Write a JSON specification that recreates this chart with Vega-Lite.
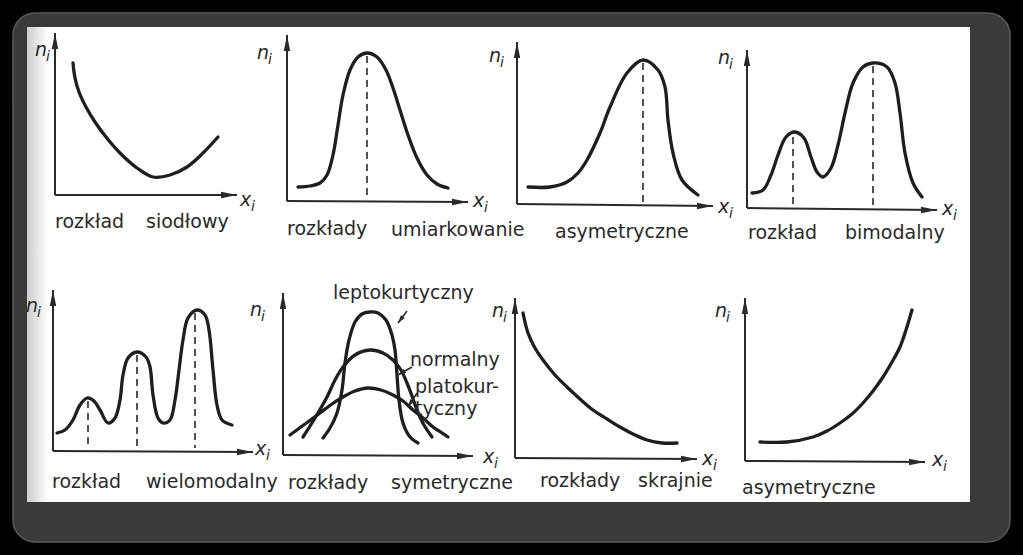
{
  "$schema": "https://vega.github.io/schema/vega-lite/v6.json",
  "width": 1023,
  "height": 555,
  "autosize": {"type": "fit", "contains": "padding"},
  "padding": 0,
  "background": "#000000",
  "config": {"view": {"stroke": null}, "font": "DejaVu Sans"},
  "datasets": {
    "frame": [{"x": 13, "x2": 1010, "y": 13, "y2": 542}],
    "paper": [{"x": 27, "x2": 970, "y": 27, "y2": 502}],
    "shade": [{"x": 27, "x2": 48, "y": 27, "y2": 502}],
    "curves": [
      {"c": "c1", "x": 73, "y": 63}, {"c": "c1", "x": 75, "y": 78}, {"c": "c1", "x": 79, "y": 92}, {"c": "c1", "x": 86, "y": 107}, {"c": "c1", "x": 95, "y": 122}, {"c": "c1", "x": 106, "y": 137}, {"c": "c1", "x": 120, "y": 153}, {"c": "c1", "x": 137, "y": 168}, {"c": "c1", "x": 153, "y": 177}, {"c": "c1", "x": 170, "y": 175}, {"c": "c1", "x": 187, "y": 167}, {"c": "c1", "x": 203, "y": 153}, {"c": "c1", "x": 218, "y": 137},
      {"c": "c2", "x": 298, "y": 187}, {"c": "c2", "x": 310, "y": 186}, {"c": "c2", "x": 320, "y": 183}, {"c": "c2", "x": 327, "y": 175}, {"c": "c2", "x": 333, "y": 155}, {"c": "c2", "x": 338, "y": 125}, {"c": "c2", "x": 343, "y": 95}, {"c": "c2", "x": 350, "y": 70}, {"c": "c2", "x": 358, "y": 57}, {"c": "c2", "x": 367, "y": 53}, {"c": "c2", "x": 377, "y": 57}, {"c": "c2", "x": 386, "y": 70}, {"c": "c2", "x": 393, "y": 88}, {"c": "c2", "x": 400, "y": 110}, {"c": "c2", "x": 408, "y": 135}, {"c": "c2", "x": 417, "y": 158}, {"c": "c2", "x": 427, "y": 175}, {"c": "c2", "x": 437, "y": 184}, {"c": "c2", "x": 448, "y": 188},
      {"c": "c3", "x": 528, "y": 187}, {"c": "c3", "x": 550, "y": 187}, {"c": "c3", "x": 567, "y": 182}, {"c": "c3", "x": 578, "y": 173}, {"c": "c3", "x": 587, "y": 160}, {"c": "c3", "x": 600, "y": 133}, {"c": "c3", "x": 610, "y": 107}, {"c": "c3", "x": 627, "y": 73}, {"c": "c3", "x": 643, "y": 60}, {"c": "c3", "x": 658, "y": 70}, {"c": "c3", "x": 665, "y": 87}, {"c": "c3", "x": 668, "y": 120}, {"c": "c3", "x": 673, "y": 153}, {"c": "c3", "x": 682, "y": 180}, {"c": "c3", "x": 698, "y": 195},
      {"c": "c4", "x": 752, "y": 193}, {"c": "c4", "x": 763, "y": 190}, {"c": "c4", "x": 771, "y": 175}, {"c": "c4", "x": 778, "y": 155}, {"c": "c4", "x": 786, "y": 137}, {"c": "c4", "x": 795, "y": 132}, {"c": "c4", "x": 804, "y": 138}, {"c": "c4", "x": 811, "y": 157}, {"c": "c4", "x": 817, "y": 172}, {"c": "c4", "x": 823, "y": 177}, {"c": "c4", "x": 831, "y": 168}, {"c": "c4", "x": 838, "y": 145}, {"c": "c4", "x": 845, "y": 113}, {"c": "c4", "x": 853, "y": 83}, {"c": "c4", "x": 863, "y": 67}, {"c": "c4", "x": 873, "y": 63}, {"c": "c4", "x": 887, "y": 67}, {"c": "c4", "x": 895, "y": 83}, {"c": "c4", "x": 900, "y": 113}, {"c": "c4", "x": 905, "y": 153}, {"c": "c4", "x": 913, "y": 183}, {"c": "c4", "x": 922, "y": 197},
      {"c": "c5", "x": 57, "y": 433}, {"c": "c5", "x": 65, "y": 430}, {"c": "c5", "x": 73, "y": 420}, {"c": "c5", "x": 80, "y": 405}, {"c": "c5", "x": 87, "y": 398}, {"c": "c5", "x": 94, "y": 401}, {"c": "c5", "x": 100, "y": 410}, {"c": "c5", "x": 108, "y": 423}, {"c": "c5", "x": 115, "y": 418}, {"c": "c5", "x": 120, "y": 400}, {"c": "c5", "x": 123, "y": 375}, {"c": "c5", "x": 128, "y": 358}, {"c": "c5", "x": 137, "y": 352}, {"c": "c5", "x": 146, "y": 357}, {"c": "c5", "x": 150, "y": 367}, {"c": "c5", "x": 153, "y": 395}, {"c": "c5", "x": 158, "y": 418}, {"c": "c5", "x": 163, "y": 423}, {"c": "c5", "x": 170, "y": 420}, {"c": "c5", "x": 175, "y": 400}, {"c": "c5", "x": 179, "y": 370}, {"c": "c5", "x": 183, "y": 340}, {"c": "c5", "x": 188, "y": 318}, {"c": "c5", "x": 197, "y": 310}, {"c": "c5", "x": 205, "y": 315}, {"c": "c5", "x": 209, "y": 330}, {"c": "c5", "x": 213, "y": 370}, {"c": "c5", "x": 217, "y": 405}, {"c": "c5", "x": 222, "y": 420}, {"c": "c5", "x": 232, "y": 425},
      {"c": "c6a", "x": 323, "y": 438}, {"c": "c6a", "x": 330, "y": 428}, {"c": "c6a", "x": 337, "y": 413}, {"c": "c6a", "x": 342, "y": 390}, {"c": "c6a", "x": 345, "y": 363}, {"c": "c6a", "x": 349, "y": 340}, {"c": "c6a", "x": 355, "y": 322}, {"c": "c6a", "x": 362, "y": 314}, {"c": "c6a", "x": 370, "y": 312}, {"c": "c6a", "x": 378, "y": 313}, {"c": "c6a", "x": 386, "y": 320}, {"c": "c6a", "x": 392, "y": 335}, {"c": "c6a", "x": 395, "y": 350}, {"c": "c6a", "x": 397, "y": 375}, {"c": "c6a", "x": 399, "y": 400}, {"c": "c6a", "x": 403, "y": 423}, {"c": "c6a", "x": 410, "y": 437}, {"c": "c6a", "x": 418, "y": 443},
      {"c": "c6b", "x": 303, "y": 437}, {"c": "c6b", "x": 315, "y": 418}, {"c": "c6b", "x": 327, "y": 397}, {"c": "c6b", "x": 335, "y": 380}, {"c": "c6b", "x": 343, "y": 367}, {"c": "c6b", "x": 355, "y": 355}, {"c": "c6b", "x": 370, "y": 350}, {"c": "c6b", "x": 383, "y": 353}, {"c": "c6b", "x": 393, "y": 360}, {"c": "c6b", "x": 401, "y": 370}, {"c": "c6b", "x": 407, "y": 383}, {"c": "c6b", "x": 412, "y": 396}, {"c": "c6b", "x": 417, "y": 410}, {"c": "c6b", "x": 424, "y": 425}, {"c": "c6b", "x": 432, "y": 437},
      {"c": "c6c", "x": 290, "y": 435}, {"c": "c6c", "x": 305, "y": 424}, {"c": "c6c", "x": 320, "y": 413}, {"c": "c6c", "x": 332, "y": 404}, {"c": "c6c", "x": 343, "y": 397}, {"c": "c6c", "x": 355, "y": 391}, {"c": "c6c", "x": 368, "y": 388}, {"c": "c6c", "x": 381, "y": 390}, {"c": "c6c", "x": 393, "y": 395}, {"c": "c6c", "x": 403, "y": 401}, {"c": "c6c", "x": 413, "y": 410}, {"c": "c6c", "x": 423, "y": 418}, {"c": "c6c", "x": 433, "y": 427}, {"c": "c6c", "x": 442, "y": 433}, {"c": "c6c", "x": 448, "y": 437},
      {"c": "c7", "x": 523, "y": 313}, {"c": "c7", "x": 528, "y": 333}, {"c": "c7", "x": 535, "y": 348}, {"c": "c7", "x": 543, "y": 360}, {"c": "c7", "x": 555, "y": 375}, {"c": "c7", "x": 567, "y": 387}, {"c": "c7", "x": 580, "y": 399}, {"c": "c7", "x": 593, "y": 410}, {"c": "c7", "x": 607, "y": 419}, {"c": "c7", "x": 620, "y": 427}, {"c": "c7", "x": 633, "y": 434}, {"c": "c7", "x": 647, "y": 440}, {"c": "c7", "x": 662, "y": 443}, {"c": "c7", "x": 677, "y": 443},
      {"c": "c8", "x": 760, "y": 442}, {"c": "c8", "x": 787, "y": 442}, {"c": "c8", "x": 813, "y": 437}, {"c": "c8", "x": 827, "y": 431}, {"c": "c8", "x": 840, "y": 423}, {"c": "c8", "x": 852, "y": 414}, {"c": "c8", "x": 863, "y": 403}, {"c": "c8", "x": 873, "y": 391}, {"c": "c8", "x": 883, "y": 377}, {"c": "c8", "x": 892, "y": 362}, {"c": "c8", "x": 900, "y": 347}, {"c": "c8", "x": 906, "y": 330}, {"c": "c8", "x": 912, "y": 310}
    ],
    "axes": [
      {"x": 55, "y": 33, "x2": 55, "y2": 195}, {"x": 55, "y": 195, "x2": 237, "y2": 195},
      {"x": 287, "y": 35, "x2": 287, "y2": 201}, {"x": 287, "y": 201, "x2": 468, "y2": 202},
      {"x": 517, "y": 42, "x2": 517, "y2": 204}, {"x": 517, "y": 204, "x2": 713, "y2": 206},
      {"x": 747, "y": 50, "x2": 747, "y2": 208}, {"x": 747, "y": 208, "x2": 937, "y2": 210},
      {"x": 53, "y": 290, "x2": 53, "y2": 451}, {"x": 53, "y": 451, "x2": 253, "y2": 452},
      {"x": 283, "y": 293, "x2": 283, "y2": 455}, {"x": 283, "y": 455, "x2": 473, "y2": 456},
      {"x": 515, "y": 298, "x2": 515, "y2": 458}, {"x": 515, "y": 458, "x2": 697, "y2": 459},
      {"x": 745, "y": 298, "x2": 745, "y2": 461}, {"x": 745, "y": 461, "x2": 925, "y2": 462}
    ],
    "heads": [
      {"x": 55, "y": 33, "angle": 0}, {"x": 237, "y": 195, "angle": 90},
      {"x": 287, "y": 35, "angle": 0}, {"x": 468, "y": 202, "angle": 90},
      {"x": 517, "y": 42, "angle": 0}, {"x": 713, "y": 206, "angle": 90},
      {"x": 747, "y": 50, "angle": 0}, {"x": 937, "y": 210, "angle": 90},
      {"x": 53, "y": 290, "angle": 0}, {"x": 253, "y": 452, "angle": 90},
      {"x": 283, "y": 293, "angle": 0}, {"x": 473, "y": 456, "angle": 90},
      {"x": 515, "y": 298, "angle": 0}, {"x": 697, "y": 459, "angle": 90},
      {"x": 745, "y": 298, "angle": 0}, {"x": 925, "y": 462, "angle": 90}
    ],
    "pointers": [
      {"x": 407, "y": 311, "x2": 398, "y2": 323},
      {"x": 412, "y": 367, "x2": 398, "y2": 375},
      {"x": 417, "y": 393, "x2": 408, "y2": 407}
    ],
    "pointerHeads": [
      {"x": 398, "y": 323, "angle": 217},
      {"x": 398, "y": 375, "angle": 240},
      {"x": 408, "y": 407, "angle": 213}
    ],
    "dashes": [
      {"x": 367, "y": 56, "y2": 197},
      {"x": 643, "y": 63, "y2": 203},
      {"x": 793, "y": 137, "y2": 206},
      {"x": 873, "y": 66, "y2": 207},
      {"x": 88, "y": 401, "y2": 447},
      {"x": 137, "y": 355, "y2": 448},
      {"x": 195, "y": 313, "y2": 448}
    ],
    "symbols": [
      {"x": 35, "y": 50, "base": "n", "sub": "i"},
      {"x": 257, "y": 53, "base": "n", "sub": "i"},
      {"x": 489, "y": 56, "base": "n", "sub": "i"},
      {"x": 718, "y": 58, "base": "n", "sub": "i"},
      {"x": 26, "y": 306, "base": "n", "sub": "i"},
      {"x": 250, "y": 310, "base": "n", "sub": "i"},
      {"x": 492, "y": 311, "base": "n", "sub": "i"},
      {"x": 715, "y": 311, "base": "n", "sub": "i"},
      {"x": 240, "y": 200, "base": "x", "sub": "i"},
      {"x": 473, "y": 201, "base": "x", "sub": "i"},
      {"x": 718, "y": 207, "base": "x", "sub": "i"},
      {"x": 942, "y": 209, "base": "x", "sub": "i"},
      {"x": 255, "y": 449, "base": "x", "sub": "i"},
      {"x": 483, "y": 457, "base": "x", "sub": "i"},
      {"x": 702, "y": 459, "base": "x", "sub": "i"},
      {"x": 932, "y": 460, "base": "x", "sub": "i"}
    ],
    "words": [
      {"x": 55, "y": 222, "t": "rozkład"}, {"x": 146, "y": 222, "t": "siodłowy"},
      {"x": 287, "y": 229, "t": "rozkłady"}, {"x": 391, "y": 230, "t": "umiarkowanie"}, {"x": 555, "y": 232, "t": "asymetryczne"},
      {"x": 748, "y": 233, "t": "rozkład"}, {"x": 845, "y": 233, "t": "bimodalny"},
      {"x": 52, "y": 482, "t": "rozkład"}, {"x": 146, "y": 482, "t": "wielomodalny"},
      {"x": 288, "y": 483, "t": "rozkłady"}, {"x": 391, "y": 483, "t": "symetryczne"},
      {"x": 540, "y": 481, "t": "rozkłady"}, {"x": 638, "y": 481, "t": "skrajnie"},
      {"x": 742, "y": 488, "t": "asymetryczne"},
      {"x": 333, "y": 293, "t": "leptokurtyczny"},
      {"x": 410, "y": 360, "t": "normalny"},
      {"x": 415, "y": 387, "t": "platokur-"},
      {"x": 415, "y": 409, "t": "tyczny"}
    ]
  },
  "encoding": {
    "x": {"field": "x", "type": "quantitative", "scale": {"domain": [0, 1023], "nice": false, "zero": false}, "axis": null},
    "y": {"field": "y", "type": "quantitative", "scale": {"domain": [0, 555], "nice": false, "zero": false, "reverse": true}, "axis": null}
  },
  "layer": [
    {
      "data": {"name": "frame"},
      "mark": {"type": "rect", "color": "#3a3a3a", "cornerRadius": 22, "stroke": "#5a5a5a", "strokeWidth": 1.5},
      "encoding": {"x2": {"field": "x2"}, "y2": {"field": "y2"}}
    },
    {
      "data": {"name": "paper"},
      "mark": {"type": "rect", "color": "#ffffff"},
      "encoding": {"x2": {"field": "x2"}, "y2": {"field": "y2"}}
    },
    {
      "data": {"name": "shade"},
      "mark": {"type": "rect", "color": {"gradient": "linear", "x1": 0, "x2": 1, "y1": 0, "y2": 0, "stops": [{"offset": 0, "color": "#cdcdcd"}, {"offset": 1, "color": "#ffffff"}]}},
      "encoding": {"x2": {"field": "x2"}, "y2": {"field": "y2"}}
    },
    {
      "data": {"name": "curves"},
      "mark": {"type": "line", "interpolate": "catmull-rom", "color": "#1e1e1e", "strokeWidth": 3.3, "strokeCap": "round", "strokeJoin": "round"},
      "encoding": {"detail": {"field": "c"}}
    },
    {
      "data": {"name": "axes"},
      "mark": {"type": "rule", "color": "#2a2a2a", "strokeWidth": 2},
      "encoding": {"x2": {"field": "x2"}, "y2": {"field": "y2"}}
    },
    {
      "data": {"name": "heads"},
      "mark": {"type": "point", "shape": "M0,0L0.2,1L-0.2,1Z", "filled": true, "color": "#2a2a2a", "opacity": 1, "size": 1024, "strokeWidth": 0},
      "encoding": {"angle": {"field": "angle", "type": "quantitative", "scale": null}}
    },
    {
      "data": {"name": "dashes"},
      "mark": {"type": "rule", "color": "#2a2a2a", "strokeWidth": 1.6, "strokeDash": [7, 5]},
      "encoding": {"y2": {"field": "y2"}}
    },
    {
      "data": {"name": "pointers"},
      "mark": {"type": "rule", "color": "#2a2a2a", "strokeWidth": 1.5},
      "encoding": {"x2": {"field": "x2"}, "y2": {"field": "y2"}}
    },
    {
      "data": {"name": "pointerHeads"},
      "mark": {"type": "point", "shape": "M0,0L0.3,1L-0.3,1Z", "filled": true, "color": "#2a2a2a", "opacity": 1, "size": 256, "strokeWidth": 0},
      "encoding": {"angle": {"field": "angle", "type": "quantitative", "scale": null}}
    },
    {
      "data": {"name": "symbols"},
      "mark": {"type": "text", "font": "DejaVu Sans", "fontStyle": "italic", "fontSize": 19, "align": "left", "baseline": "middle", "color": "#2a2a2a"},
      "encoding": {"text": {"field": "base"}}
    },
    {
      "data": {"name": "symbols"},
      "mark": {"type": "text", "font": "DejaVu Sans", "fontStyle": "italic", "fontSize": 14, "align": "left", "baseline": "middle", "dx": 11, "dy": 7, "color": "#2a2a2a"},
      "encoding": {"text": {"field": "sub"}}
    },
    {
      "data": {"name": "words"},
      "mark": {"type": "text", "font": "DejaVu Sans", "fontSize": 19, "align": "left", "baseline": "middle", "color": "#2a2a2a"},
      "encoding": {"text": {"field": "t"}}
    }
  ]
}
